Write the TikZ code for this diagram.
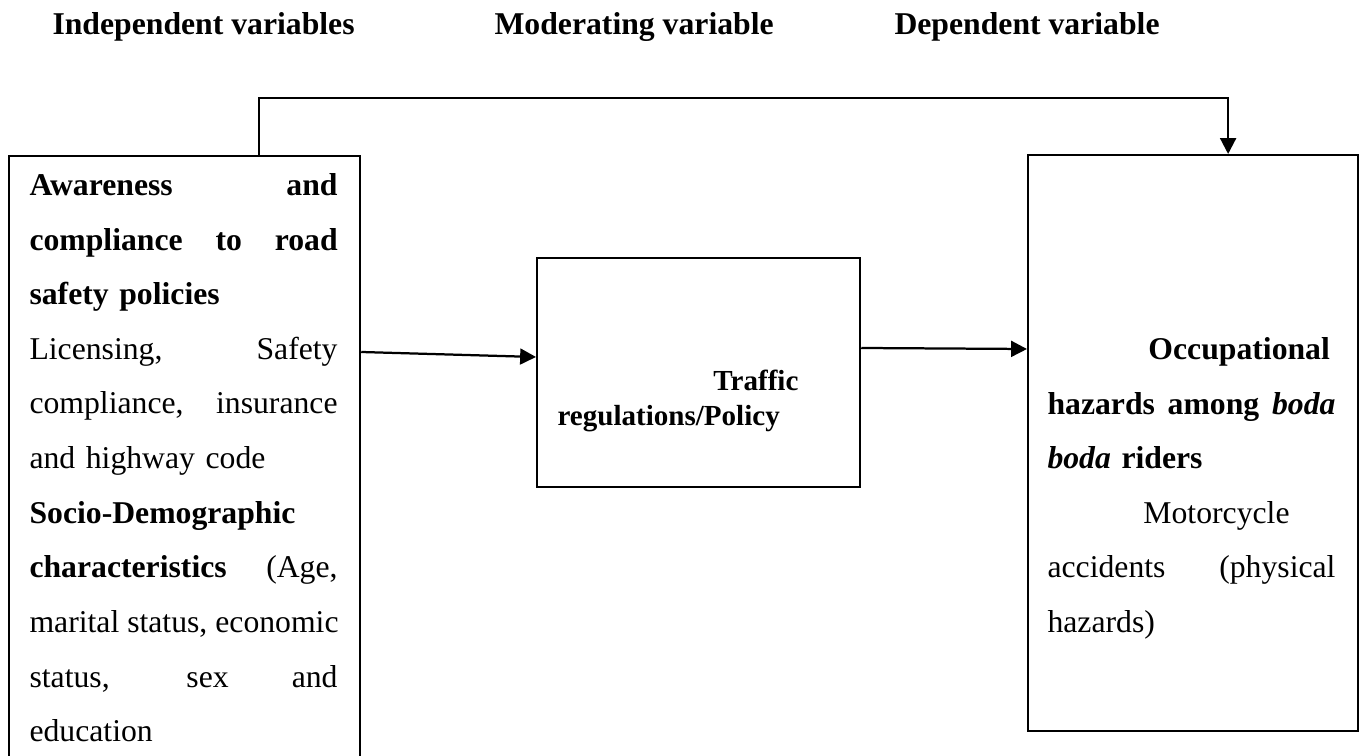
\documentclass[tikz,border=0pt]{standalone}
\usepackage{fontspec}
\setmainfont{Liberation Serif}
\usetikzlibrary{arrows.meta}
\newdimen\px \px=0.3785pt
\newcommand{\fline}[2][116.6pt]{\leavevmode\hbox to #1{\spaceskip=0.25em plus 1fil\relax #2}}
\hbadness=10000
\tikzset{box/.style={draw, line width=0.85pt, rectangle, inner sep=0pt, anchor=north west},
  txt/.style={inner sep=0pt, anchor=north west, align=left, font=\fontsize{12}{20.67}\selectfont},
  head/.style={inner sep=0pt, anchor=base west, font=\fontsize{12}{14}\selectfont\bfseries},
  arr/.style={line width=0.85pt, -{Triangle[length=6pt,width=6pt]}}}

\begin{document}
\begin{tikzpicture}[x=0.3785pt, y=-0.3785pt]
\useasboundingbox (0,0) rectangle (1361,756);
\clip (0,0) rectangle (1361,756);

% headings
\node[head] (indephead) at (52,35) {Independent variables};
\node[head] (moderhead) at (494,35) {Moderating variable};
\node[head] (dephead) at (894,35) {Dependent variable};

% boxes
\node[box, minimum width=351\px, minimum height=650\px] (indep) at (8,155) {};
\node[box, minimum width=323\px, minimum height=229\px] (moder) at (536,257) {};
\node[box, minimum width=330\px, minimum height=576\px] (dep) at (1027,154) {};

% box texts
\node[txt, text width=308\px] (indeptext) at (29,156.8) {\noindent\strut\fline{\textbf{Awareness and}}\\
  \fline{\textbf{compliance to road}}\\
  \textbf{safety policies}\\
  \fline{Licensing, Safety}\\
  \fline{compliance, insurance}\\
  and highway code\\
  \textbf{Socio-Demographic}\\
  \fline{\textbf{characteristics} (Age,}\\
  \fline{marital status, economic}\\
  \fline{status, sex and}\\
  education};
\node[txt, text width=250\px, font=\fontsize{11}{13.25}\selectfont\bfseries] (modertext) at (557,365.5) {\noindent\strut\hspace*{59pt}Traffic\\
  regulations/Policy};
\node[txt, text width=288\px] (deptext) at (1047,320.8) {\noindent\strut\hspace*{38.2pt}\textbf{Occupational}\\
  \fline[109pt]{\textbf{hazards among \textit{boda}}}\\
  \textbf{\textit{boda} riders}\\
  \hspace*{36.3pt}Motorcycle\\
  \fline[109pt]{accidents (physical}\\
  hazards)};

% connectors
\draw[arr] ([yshift=-197\px]indep.north east) -- ([yshift=-100\px]moder.north west);
\draw[arr] ([yshift=-91\px]moder.north east) -- ([yshift=-195\px]dep.north west);
\draw[arr] ([xshift=74.5\px]indep.north) -- ++(0,-57) -| ([xshift=35\px]dep.north);

\end{tikzpicture}
\end{document}
